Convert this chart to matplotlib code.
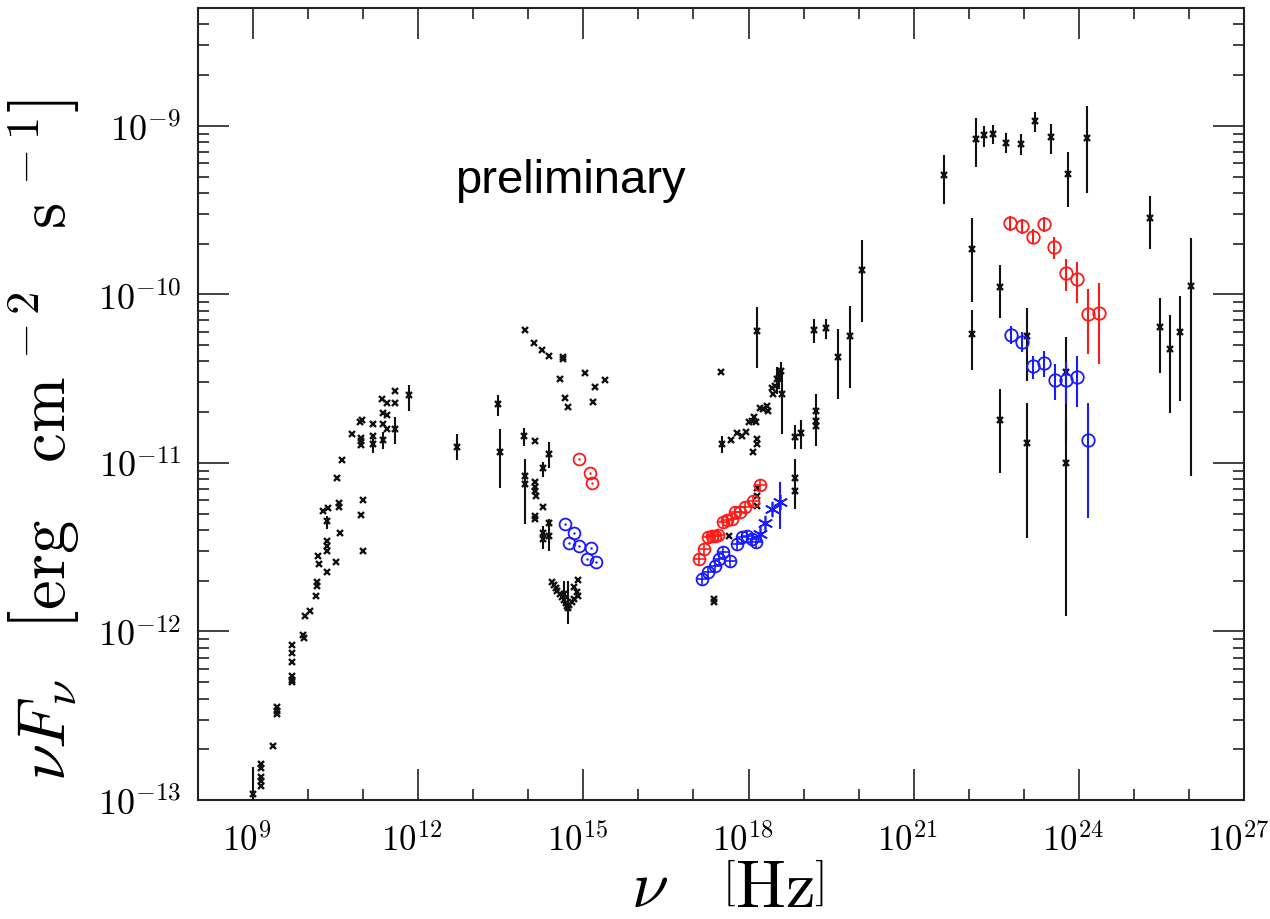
import matplotlib
matplotlib.use("Agg")
import matplotlib.pyplot as plt
import matplotlib.transforms as mtransforms
import numpy as np
from matplotlib.ticker import FixedLocator, FuncFormatter, LogLocator, NullFormatter

plt.rcParams['mathtext.fontset'] = 'cm'

# all values are log10(nu / Hz) and log10(nuF_nu / erg cm^-2 s^-1)

# black points, no error bar
blk_nu = [9.150, 9.150, 9.150, 9.150, 9.150, 9.357, 9.440, 9.440, 9.440,
          9.713, 9.713, 9.713, 9.713, 9.713, 9.713, 9.913, 9.931, 9.949, 10.035,
          10.156, 10.156, 10.143, 10.185, 10.203, 10.349, 10.349, 10.349, 10.349,
          10.501, 10.579, 11.003, 10.276, 10.367, 10.567, 10.567, 10.525, 10.621,
          10.792, 10.955, 11.003, 10.955, 10.955, 10.955, 10.943, 10.985, 11.179,
          11.179, 11.337, 11.355, 11.366, 11.433, 11.439, 11.439, 11.579, 11.579,
          # optical / UV
          13.940, 14.109, 14.254, 14.376, 14.636, 14.636, 14.576, 15.030, 15.393,
          15.217, 14.667, 14.727, 15.170, 14.127, 14.122, 14.122, 14.122, 14.140,
          14.262, 14.122, 14.122, 13.940, 14.262, 14.376,
          14.425, 14.458, 14.494, 14.530, 14.567, 14.603, 14.640, 14.676, 14.703,
          14.908, 14.836, 14.885, 14.908, 14.830, 14.785, 14.739,
          # X-ray
          17.500, 17.677, 17.786, 17.877, 17.949, 18.009, 18.058, 18.100, 18.136,
          18.073, 18.154, 18.154, 18.209, 18.269, 18.331, 18.360, 18.422, 18.451,
          18.482, 18.160, 18.160, 18.160, 17.651, 17.373, 17.373, 19.221, 19.221,
          18.845]
blk_f = [-12.787, -12.812, -12.865, -12.889, -12.915, -12.678, -12.447, -12.471, -12.492,
         -12.079, -12.128, -12.180, -12.263, -12.287, -12.302, -12.022, -12.041, -11.907, -11.879,
         -11.709, -11.729, -11.792, -11.555, -11.599, -11.462, -11.492, -11.521, -11.650,
         -11.587, -11.413, -11.524, -11.288, -11.267, -11.235, -11.259, -11.087, -10.980,
         -10.826, -11.310, -11.223, -10.850, -10.873, -10.893, -10.760, -10.745, -10.770,
         -10.840, -10.622, -10.701, -10.770, -10.642, -10.715, -10.800, -10.573, -10.646,
         -10.211, -10.286, -10.332, -10.366, -10.369, -10.385, -10.505, -10.466, -10.510,
         -10.551, -10.616, -10.666, -10.638, -10.871, -11.113, -11.140, -11.166, -11.196,
         -11.264, -11.314, -11.334, -11.077, -11.414, -11.357,
         -11.709, -11.725, -11.743, -11.761, -11.779, -11.796, -11.814, -11.832, -11.850,
         -11.696, -11.739, -11.767, -11.789, -11.808, -11.826, -11.844,
         -10.458, -10.864, -10.824, -10.840, -10.816, -10.760, -10.751, -10.725, -10.757,
         -10.935, -10.857, -10.885, -10.672, -10.682, -10.662, -10.692, -10.553, -10.593,
         -10.543, -11.146, -11.196, -11.255, -11.433, -11.808, -11.826, -10.690, -10.750,
         -11.087]

# black points with error bars
blke_nu = [8.990, 10.349, 11.179, 11.366, 11.579, 11.828, 12.699,
           13.455, 13.481, 13.927, 14.381, 14.262, 13.940, 14.262, 14.376, 14.652, 14.716,
           17.524, 18.154, 18.512, 18.560, 18.585, 18.614, 18.850, 18.959, 19.221, 18.845,
           19.190, 19.413, 19.631, 19.844, 20.056,
           21.551, 22.127, 22.283, 22.441, 22.683, 22.945, 23.210, 23.495, 23.804, 24.149,
           22.055, 22.574, 22.055, 22.574, 23.054, 23.054, 23.762, 23.762,
           25.288, 25.475, 25.657, 25.844, 26.033]
blke_f = [-12.966, -11.347, -10.885, -10.864, -10.800, -10.599, -10.903,
          -10.652, -10.938, -10.840, -10.948, -11.031, -11.127, -11.453, -11.436, -11.779, -11.858,
          -10.885, -10.217, -10.504, -10.494, -10.454, -10.593, -10.845, -10.825, -10.780, -11.166,
          -10.211, -10.197, -10.369, -10.247, -9.856,
          -9.294, -9.076, -9.057, -9.047, -9.100, -9.106, -8.970, -9.067, -9.288, -9.071,
          -9.733, -9.956, -10.233, -10.747, -10.245, -10.880, -10.460, -11.003,
          -9.547, -10.191, -10.322, -10.221, -9.952]
blke_lo = [-13.10, -11.393, -10.942, -10.920, -10.890, -10.692, -10.982,
           -10.719, -11.148, -10.899, -11.033, -11.082, -11.363, -11.512, -11.522, -11.838, -11.956,
           -10.939, -10.439, -10.593, -10.560, -10.520, -10.830, -10.919, -10.919, -10.901, -11.275,
           -10.286, -10.262, -10.623, -10.557, -10.162,
           -9.462, -9.246, -9.125, -9.110, -9.159, -9.176, -9.035, -9.165, -9.480, -9.398,
           -10.045, -10.139, -10.449, -11.057, -10.514, -11.447, -10.889, -11.907,
           -9.729, -10.465, -10.702, -10.632, -11.077]
blke_hi = [-12.804, -11.314, -10.850, -10.818, -10.730, -10.535, -10.830,
           -10.600, -10.796, -10.790, -10.875, -10.994, -10.974, -11.374, -11.334, -11.700, -11.701,
           -10.840, -10.077, -10.433, -10.440, -10.400, -10.444, -10.777, -10.747, -10.593, -10.978,
           -10.149, -10.144, -10.208, -10.069, -9.678,
           -9.176, -8.956, -9.002, -8.994, -9.045, -9.047, -8.920, -8.987, -9.156, -8.883,
           -9.549, -9.827, -10.091, -10.563, -10.079, -10.642, -10.251, -10.731,
           -9.417, -10.023, -10.120, -10.012, -9.666]

# red state
red_opt_nu = [14.926, 15.121, 15.162]
red_opt_f = [-10.978, -11.059, -11.119]
red_x_nu = [17.106, 17.192, 17.270, 17.332, 17.392, 17.451, 17.531, 17.604, 17.695,
            17.755, 17.846, 17.937, 18.076, 18.209]
red_x_f = [-11.571, -11.508, -11.442, -11.436, -11.433, -11.429, -11.350, -11.338, -11.334,
           -11.294, -11.294, -11.264, -11.225, -11.132]
red_g_nu = [22.750, 22.963, 23.163, 23.363, 23.555, 23.762, 23.962, 24.162, 24.367]
red_g_f = [-9.579, -9.595, -9.658, -9.585, -9.719, -9.875, -9.911, -10.118, -10.108]
red_g_lo = [-9.624, -9.640, -9.703, -9.630, -9.793, -9.980, -10.050, -10.351, -10.415]
red_g_hi = [-9.534, -9.550, -9.613, -9.540, -9.662, -9.792, -9.808, -9.966, -9.930]

# blue state
blue_opt_nu = [14.667, 14.830, 14.745, 14.926, 15.133, 15.066, 15.224]
blue_opt_f = [-11.365, -11.415, -11.478, -11.494, -11.504, -11.573, -11.585]
blue_x_nu = [17.150, 17.270, 17.392, 17.470, 17.542, 17.664, 17.786, 17.877, 17.967,
             18.058, 18.136]
blue_x_f = [-11.690, -11.650, -11.611, -11.571, -11.531, -11.581, -11.482, -11.442, -11.433,
            -11.452, -11.472]
blue_s_nu = [18.209, 18.305, 18.422, 18.572]
blue_s_f = [-11.423, -11.354, -11.275, -11.231]
blue_s_lo = [-11.423, -11.354, -11.275, -11.393]
blue_s_hi = [-11.423, -11.354, -11.275, -11.116]
blue_g_nu = [22.759, 22.963, 23.163, 23.363, 23.562, 23.762, 23.962, 24.162]
blue_g_f = [-10.241, -10.280, -10.425, -10.405, -10.508, -10.508, -10.490, -10.865]
blue_g_lo = [-10.297, -10.341, -10.504, -10.489, -10.625, -10.652, -10.668, -11.325]
blue_g_hi = [-10.188, -10.225, -10.366, -10.336, -10.412, -10.401, -10.366, -10.646]


def p(a):
    return 10.0 ** np.asarray(a)


def yerr(f, lo, hi):
    return [p(f) - p(lo), p(hi) - p(f)]


fig = plt.figure(figsize=(12.7, 9.2), dpi=100)
ax = fig.add_axes([198 / 1270, 1 - 801 / 920, 1046 / 1270, 792 / 920])
ax.set_xscale('log')
ax.set_yscale('log')

RED = '#ff1a1a'
BLUE = '#1a1aff'
BLK = '#111111'

# black data
ax.plot(p(blk_nu), p(blk_f), 'x', color=BLK, ms=4, mew=1.7, zorder=3)
ax.errorbar(p(blke_nu), p(blke_f), yerr=yerr(blke_f, blke_lo, blke_hi), fmt='x',
            color=BLK, ms=4, mew=1.7, elinewidth=1.5, capsize=0, zorder=3)

# red
ax.plot(p(red_opt_nu), p(red_opt_f), 'o', mfc='none', mec=RED, ms=8.5, mew=1.3, zorder=4)
ax.plot(p(red_opt_nu), p(red_opt_f), '.', color=RED, ms=1.5, zorder=4)
ax.plot(p(red_x_nu), p(red_x_f), 'o', mfc='none', mec=RED, ms=8.5, mew=1.3, zorder=4)
ax.plot(p(red_x_nu), p(red_x_f), '+', color=RED, ms=8.5, mew=1.2, zorder=4)
ax.errorbar(p(red_g_nu), p(red_g_f), yerr=yerr(red_g_f, red_g_lo, red_g_hi), fmt='o',
            mfc='none', mec=RED, ecolor=RED, ms=9, mew=1.3, elinewidth=1.5, capsize=0, zorder=4)

# blue
ax.plot(p(blue_opt_nu), p(blue_opt_f), 'o', mfc='none', mec=BLUE, ms=8.5, mew=1.3, zorder=4)
ax.plot(p(blue_opt_nu), p(blue_opt_f), '.', color=BLUE, ms=1.5, zorder=4)
ax.plot(p(blue_x_nu), p(blue_x_f), 'o', mfc='none', mec=BLUE, ms=8.5, mew=1.3, zorder=4)
ax.plot(p(blue_x_nu), p(blue_x_f), '+', color=BLUE, ms=8.5, mew=1.2, zorder=4)
ax.errorbar(p(blue_s_nu), p(blue_s_f), yerr=yerr(blue_s_f, blue_s_lo, blue_s_hi),
            fmt='none', ecolor=BLUE, elinewidth=1.5, capsize=0, zorder=4)
ax.plot(p(blue_s_nu), p(blue_s_f), marker=(6, 2, 0), ls='none', color=BLUE, ms=11, mew=1.2, zorder=4)
ax.errorbar(p(blue_g_nu), p(blue_g_f), yerr=yerr(blue_g_f, blue_g_lo, blue_g_hi), fmt='o',
            mfc='none', mec=BLUE, ecolor=BLUE, ms=9, mew=1.3, elinewidth=1.5, capsize=0, zorder=4)

ax.set_xlim(1e8, 1e27)
ax.set_ylim(1e-13, 5e-9)

ax.xaxis.set_major_locator(FixedLocator([10.0 ** k for k in range(9, 28, 3)]))
ax.xaxis.set_minor_locator(FixedLocator([10.0 ** k for k in range(8, 28) if k % 3 != 0]))
ax.yaxis.set_major_locator(FixedLocator([10.0 ** k for k in range(-13, -8)]))
ax.yaxis.set_minor_locator(LogLocator(base=10, subs=np.arange(2, 10), numticks=30))
fmt = FuncFormatter(lambda v, pos: r'$10^{%d}$' % int(round(np.log10(v))))
ax.xaxis.set_major_formatter(fmt)
ax.yaxis.set_major_formatter(fmt)
ax.xaxis.set_minor_formatter(NullFormatter())
ax.yaxis.set_minor_formatter(NullFormatter())

ax.tick_params(which='both', direction='in', top=True, right=True, width=1.2, color='#222222')
ax.tick_params(which='major', length=22)
ax.tick_params(which='minor', length=8)
ax.tick_params(axis='x', which='major', labelsize=25, pad=16)
ax.tick_params(axis='y', which='major', labelsize=26, pad=12)
for s in ax.spines.values():
    s.set_linewidth(1.5)
    s.set_color('#222222')

# x tick labels sit a little left of their ticks in the original
shift = mtransforms.ScaledTranslation(-6 / 100, 0, fig.dpi_scale_trans)
for lab in ax.get_xticklabels():
    lab.set_transform(lab.get_transform() + shift)

ax.text(455, 920 - 193, 'preliminary', transform=None, fontsize=34, family='Liberation Sans')

fig.text(728 / 1270, 1 - 888 / 920, r'$\nu\quad\left[{\rm Hz}\right]$', fontsize=48,
         ha='center', va='center')
fig.text(44 / 1270, 1 - 440 / 920,
         r'$\nu F_\nu\;\;\;\left[{\rm erg}\quad{\rm cm}^{\,-2}\quad{\rm s}^{\,-1}\right]$',
         fontsize=48, rotation=90, ha='center', va='center')

fig.savefig('out.png', dpi=100)
